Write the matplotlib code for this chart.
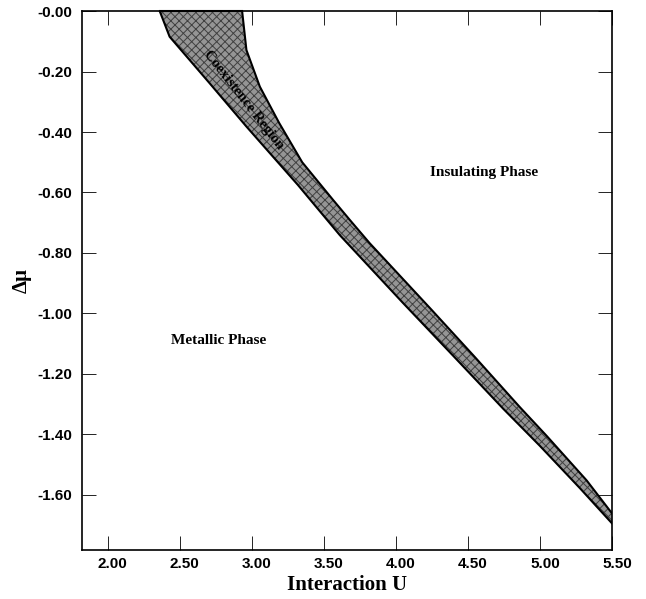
import matplotlib
matplotlib.use("Agg")
import matplotlib.pyplot as plt
from matplotlib.transforms import ScaledTranslation

# Data: phase boundaries (Interaction U vs delta mu)
upper_U = [2.933, 2.963, 3.056, 3.19, 3.35, 3.565, 3.681, 3.819, 4.248, 4.55, 4.861, 5.047, 5.324, 5.50]
upper_mu = [0.0, -0.129, -0.25, -0.37, -0.50, -0.625, -0.691, -0.768, -0.988, -1.145, -1.31, -1.405, -1.552, -1.661]
lower_U = [2.361, 2.43, 2.708, 2.963, 3.32, 3.611, 4.051, 4.398, 4.745, 5.0, 5.278, 5.50]
lower_mu = [0.0, -0.085, -0.239, -0.382, -0.575, -0.741, -0.966, -1.140, -1.315, -1.438, -1.578, -1.694]

x_ticks = [2.0, 2.5, 3.0, 3.5, 4.0, 4.5, 5.0, 5.5]
x_labels = ["2.00", "2.50", "3.00", "3.50", "4.00", "4.50", "5.00", "5.50"]
y_ticks = [0.0, -0.2, -0.4, -0.6, -0.8, -1.0, -1.2, -1.4, -1.6]
y_labels = ["-0.00", "-0.20", "-0.40", "-0.60", "-0.80", "-1.00", "-1.20", "-1.40", "-1.60"]

plt.rcParams['hatch.linewidth'] = 0.7

fig = plt.figure(figsize=(6.46, 5.99), dpi=100)
ax = fig.add_axes([0.1265, 0.0818, 0.8209, 0.8998])

poly_U = upper_U + lower_U[::-1]
poly_mu = upper_mu + lower_mu[::-1]
ax.fill(poly_U, poly_mu, facecolor='#959595', edgecolor='#404040', linewidth=0,
        hatch='xxxx', zorder=2)
ax.plot(upper_U, upper_mu, color='black', lw=1.5, zorder=3)
ax.plot(lower_U, lower_mu, color='black', lw=1.5, zorder=3)
ax.plot([lower_U[0], upper_U[0]], [0, 0], color='black', lw=1.5, zorder=3, clip_on=False)

ax.set_xlim(1.82, 5.5)
ax.set_ylim(-1.782, 0.0)

ax.set_xticks(x_ticks)
ax.set_xticklabels(x_labels)
ax.set_yticks(y_ticks)
ax.set_yticklabels(y_labels)
ax.tick_params(axis='both', which='major', direction='in', length=10, width=0.6,
               top=True, right=True, labelsize=11)
ax.tick_params(axis='y', pad=7)
ax.tick_params(axis='x', pad=5)
shift = ScaledTranslation(5 / 100, 0, fig.dpi_scale_trans)
for lab in ax.get_xticklabels():
    lab.set_transform(lab.get_transform() + shift)
for lab in ax.get_xticklabels() + ax.get_yticklabels():
    lab.set_fontfamily('Liberation Sans')
    lab.set_fontweight('bold')

for sp in ax.spines.values():
    sp.set_linewidth(1.2)

serif = 'Liberation Serif'
ax.set_xlabel("Interaction U", fontsize=15, fontweight='bold', fontfamily=serif, labelpad=3)
ax.set_ylabel("Δμ", fontsize=15, fontweight='bold', fontfamily=serif, labelpad=4)

ax.text(4.61, -0.535, "Insulating Phase", fontsize=11, fontweight='bold', fontfamily=serif,
        ha='center', va='center')
ax.text(2.77, -1.09, "Metallic Phase", fontsize=11, fontweight='bold', fontfamily=serif,
        ha='center', va='center')
ax.text(2.94, -0.295, "Coexistence Region", fontsize=10.5, fontweight='bold', fontfamily=serif,
        ha='center', va='center', rotation=-52, rotation_mode='anchor', zorder=4)

fig.savefig("out.png", dpi=100)
